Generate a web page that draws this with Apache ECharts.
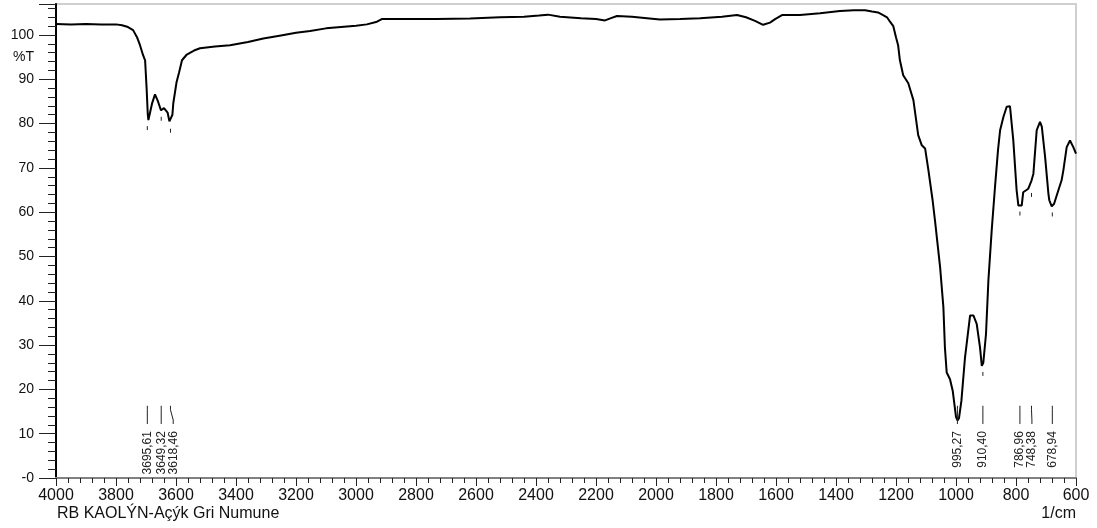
<!DOCTYPE html>
<html>
<head>
<meta charset="utf-8">
<script src="https://cdn.jsdelivr.net/npm/echarts@6/dist/echarts.min.js"></script>
<style>
  html, body { margin: 0; padding: 0; background: #fff; }
  #main { width: 1097px; height: 528px; }
</style>
</head>
<body>
<div id="main"></div>
<script>
"use strict";

// wavenumber (1/cm) and transmittance (%T)
var waveNumbers = [4000, 3950, 3900, 3850, 3800, 3780, 3760, 3743, 3730, 3720, 3710, 3703, 3698, 3694, 3692, 3688, 3680, 3670, 3660, 3650, 3645, 3640, 3634, 3628, 3622, 3617, 3612, 3609, 3598, 3590, 3580, 3564, 3540, 3520, 3470, 3420, 3360, 3309, 3250, 3200, 3153, 3100, 3050, 3000, 2964, 2930, 2914, 2842, 2731, 2620, 2520, 2440, 2390, 2360, 2320, 2250, 2200, 2170, 2150, 2130, 2080, 2030, 1987, 1920, 1853, 1780, 1730, 1700, 1670, 1643, 1620, 1603, 1580, 1520, 1453, 1387, 1340, 1303, 1280, 1260, 1243, 1230, 1220, 1209, 1200, 1193, 1187, 1176, 1159, 1142, 1126, 1114, 1103, 1092, 1078, 1070, 1053, 1042, 1037, 1031, 1020, 1011, 1000, 995, 990, 982, 970, 953, 942, 931, 920, 914, 909, 900, 892, 881, 870, 860, 853, 842, 831, 820, 809, 798, 792, 781, 776, 770, 759, 753, 748, 742, 731, 720, 714, 703, 692, 689, 681, 673, 659, 648, 642, 631, 620, 609, 600];
var transmittance = [102.5, 102.4, 102.5, 102.4, 102.4, 102.2, 101.8, 101.1, 99.5, 97.7, 95.5, 94.3, 88, 82, 80.8, 81.2, 84.5, 86.6, 85, 83, 82.8, 83.5, 83.8, 82.5, 80.5, 80.2, 82, 84.6, 89.4, 91.5, 94.3, 95.6, 96.5, 97.0, 97.4, 97.7, 98.4, 99.2, 99.9, 100.5, 100.9, 101.5, 101.8, 102.1, 102.4, 103.0, 103.6, 103.6, 103.6, 103.7, 104.0, 104.1, 104.4, 104.6, 104.1, 103.8, 103.6, 103.3, 103.8, 104.3, 104.1, 103.8, 103.5, 103.6, 103.8, 104.1, 104.5, 104.0, 103.2, 102.3, 102.8, 103.6, 104.5, 104.5, 104.9, 105.4, 105.6, 105.6, 105.3, 105.1, 104.5, 104.0, 103.0, 102.0, 99.5, 97.7, 94.3, 90.9, 89.1, 85.3, 77.4, 75.1, 74.4, 69.5, 62.7, 58.1, 47.6, 38.5, 29.5, 23.8, 22.3, 19.7, 13.8, 13.0, 13.5, 17.4, 27.2, 36.7, 36.7, 34.8, 29.5, 25.3, 26.0, 32.5, 44.6, 55.9, 65.7, 74, 78.5, 81.5, 83.8, 83.9, 76.2, 65, 61.5, 61.5, 64.5, 64.9, 65.3, 65.7, 67.2, 68.7, 78.5, 80.4, 79.3, 72.5, 64.2, 62.7, 61.3, 61.9, 64.9, 67.2, 69.5, 74.7, 76.2, 74.7, 73.2];

// picked peaks
var peakWaveNumbers = [3695.61, 3649.32, 3618.46, 995.27, 910.40, 786.96, 748.38, 678.94];
var peakTransmittance = [80.8, 82.9, 80.2, 13.0, 25.3, 61.5, 65.7, 61.3];

var sampleName = 'RB KAOLÝN-Açýk Gri Numune';
var xUnit = '1/cm';
var yUnit = '%T';

var spectrum = waveNumbers.map(function (w, i) { return [w, transmittance[i]]; });
var peaks = peakWaveNumbers.map(function (w, i) { return [w, peakTransmittance[i]]; });

var myChart = echarts.init(document.getElementById('main'));
var fontFamily = 'Liberation Sans, Arial, sans-serif';

// spread peak labels so neighbours don't overlap
function labelXs(api) {
    var xs = peakWaveNumbers.map(function (w) { return api.coord([w, 0])[0]; });
    for (var i = 1; i < xs.length; i++) {
        if (xs[i] < xs[i - 1] + 12) xs[i] = xs[i - 1] + 12;
    }
    return xs;
}

function renderPeak(params, api) {
    var wn = api.value(0);
    var t = api.value(1);
    var pMin = api.coord([wn, t]);
    var lx = labelXs(api)[params.dataIndex];
    var lineTop = api.coord([wn, 16.3]);
    var lineBottom = api.coord([wn, 12.2]);
    var textAnchor = api.coord([wn, 10.6]);
    var label = peakWaveNumbers[params.dataIndex].toFixed(2).replace('.', ',');
    var children = [
        {
            type: 'polyline',
            shape: { points: [[lineTop[0], lineTop[1]], [lineTop[0], lineTop[1] + 4], [lx, lineBottom[1] - 4], [lx, lineBottom[1]]] },
            style: { stroke: '#222', lineWidth: 1, fill: null }
        },
        {
            type: 'text',
            x: lx,
            y: textAnchor[1],
            rotation: Math.PI / 2,
            style: {
                text: label,
                align: 'right',
                verticalAlign: 'middle',
                fill: '#222',
                font: '12px ' + fontFamily
            }
        }
    ];
    if (t > 20) {
        children.push({
            type: 'line',
            shape: { x1: pMin[0], y1: pMin[1] + 6, x2: pMin[0], y2: pMin[1] + 10 },
            style: { stroke: '#222', lineWidth: 1 }
        });
    }
    return { type: 'group', children: children };
}

var option = {
    animation: false,
    backgroundColor: '#fff',
    grid: {
        left: 56,
        right: 21,
        top: 4,
        bottom: 50,
        show: true,
        borderColor: '#d0d0d0',
        borderWidth: 2,
        outerBoundsMode: 'none'
    },
    xAxis: [
        {
            type: 'value',
            min: 600,
            max: 4000,
            interval: 200,
            inverse: true,
            position: 'bottom',
            axisLine: { onZero: false, lineStyle: { color: '#d0d0d0', width: 2 } },
            axisTick: { length: 8, lineStyle: { color: '#222' } },
            minorTick: { show: true, splitNumber: 5, length: 5, lineStyle: { color: '#222' } },
            axisLabel: {
                color: '#111', fontSize: 16, fontFamily: fontFamily, margin: 10,
                formatter: function (v) { return String(v); }
            },
            splitLine: { show: false }
        },
        {
            type: 'value',
            min: 600,
            max: 4000,
            inverse: true,
            position: 'top',
            axisLine: { lineStyle: { color: '#808080', width: 2 } },
            axisTick: { show: false },
            axisLabel: { show: false },
            splitLine: { show: false }
        }
    ],
    yAxis: [
        {
            type: 'value',
            min: 0,
            max: 107,
            interval: 10,
            position: 'left',
            axisLine: { show: true, onZero: false, lineStyle: { color: '#000', width: 2 } },
            axisTick: { show: true, length: 17, lineStyle: { color: '#222' } },
            minorTick: { show: true, splitNumber: 5, length: 8, lineStyle: { color: '#222' } },
            axisLabel: {
                color: '#111', fontSize: 14, fontFamily: fontFamily, margin: 22,
                showMaxLabel: false,
                formatter: function (v) { return v === 0 ? '-0' : String(v); }
            },
            splitLine: { show: false }
        },
        {
            type: 'value',
            min: 0,
            max: 107,
            interval: 95,
            position: 'left',
            axisLine: { show: false },
            axisTick: { show: false },
            axisLabel: {
                color: '#111', fontSize: 14, fontFamily: fontFamily, margin: 22,
                showMaxLabel: false,
                formatter: function (v) { return v === 95 ? yUnit : ''; }
            },
            splitLine: { show: false }
        }
    ],
    graphic: [
        {
            type: 'text',
            left: 57,
            top: 506,
            style: { text: sampleName, fill: '#111', font: '16px ' + fontFamily }
        },
        {
            type: 'text',
            right: 21,
            top: 506,
            style: { text: xUnit, fill: '#111', font: '16px ' + fontFamily }
        }
    ],
    series: [
        {
            name: 'spectrum',
            type: 'line',
            data: spectrum,
            showSymbol: false,
            silent: true,
            lineStyle: { color: '#000', width: 2 },
            z: 3
        },
        {
            name: 'peaks',
            type: 'custom',
            data: peaks,
            renderItem: renderPeak,
            clip: false,
            silent: true,
            z: 4
        }
    ]
};
myChart.setOption(option);
</script>
</body>
</html>
